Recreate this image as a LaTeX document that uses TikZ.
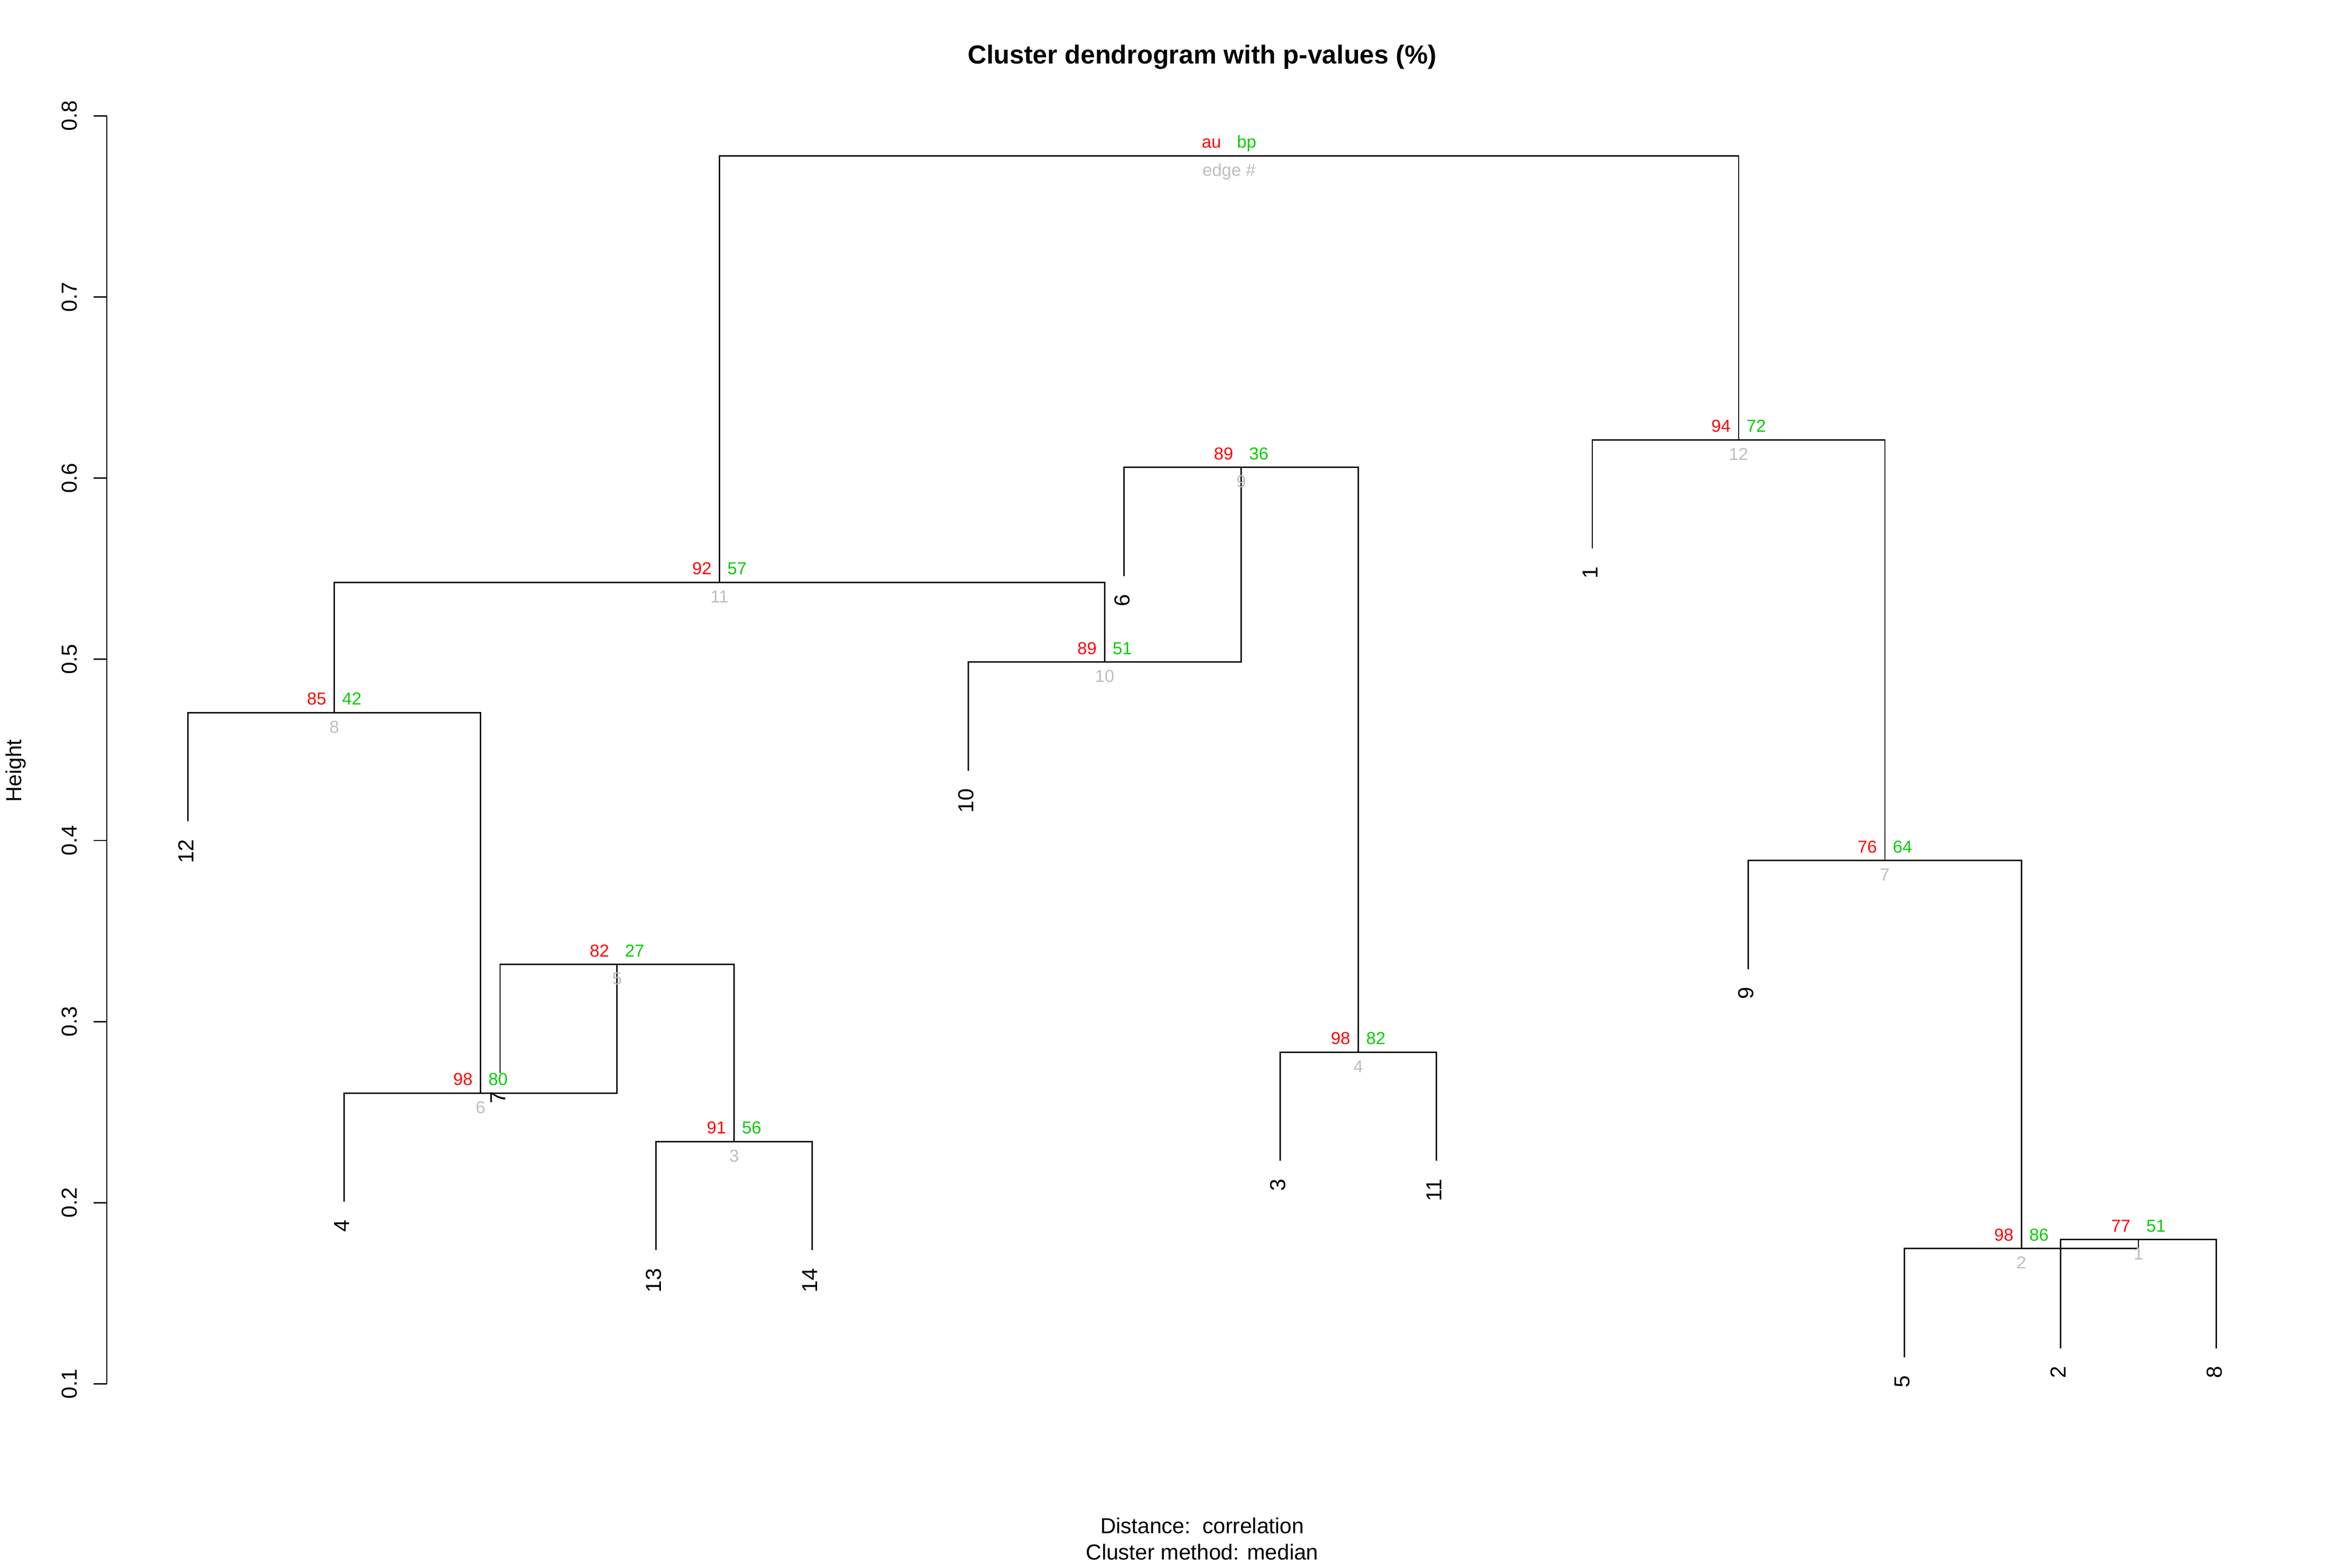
\documentclass[tikz,border=0pt]{standalone}
\usepackage{fontspec}
\setmainfont{Liberation Sans}
\definecolor{pvred}{HTML}{FF0000}
\definecolor{pvgreen}{HTML}{00CD00}
\definecolor{pvgray}{HTML}{BEBEBE}
\begin{document}
\begin{tikzpicture}[x=3.033183cm, y=35.22133cm,
  dend/.style={draw=black, line width=0.75pt},
  axisline/.style={draw=black, line width=0.75pt},
  leaflab/.style={rotate=90, anchor=east, inner sep=0pt, font=\fontsize{12}{14.4}\selectfont},
  ticklab/.style={rotate=90, anchor=base, inner sep=0pt, font=\fontsize{12}{14.4}\selectfont},
  aulab/.style={anchor=base east, inner sep=0pt, text=pvred, font=\fontsize{9.6}{11.5}\selectfont},
  bplab/.style={anchor=base west, inner sep=0pt, text=pvgreen, font=\fontsize{9.6}{11.5}\selectfont},
  edgelab/.style={anchor=base, inner sep=0pt, text=pvgray, font=\fontsize{9.6}{11.5}\selectfont},
  plaintext/.style={anchor=base, inner sep=0pt, font=\fontsize{12}{14.4}\selectfont}]
\useasboundingbox[fill=white] (-0.20447,-0.001442) rectangle (14.8688,0.86394);

% leaves (position, bottom of hanging line)
\coordinate (L12) at (1,0.4106);
\coordinate (L4)  at (2,0.2005);
\coordinate (L7)  at (3,0.2715);
\coordinate (L13) at (4,0.1738);
\coordinate (L14) at (5,0.1738);
\coordinate (L10) at (6,0.4385);
\coordinate (L6)  at (7,0.5459);
\coordinate (L3)  at (8,0.2231);
\coordinate (L11) at (9,0.2231);
\coordinate (L1)  at (10,0.5611);
\coordinate (L9)  at (11,0.3289);
\coordinate (L5)  at (12,0.1147);
\coordinate (L2)  at (13,0.1197);
\coordinate (L8)  at (14,0.1197);

% merges
\coordinate (c1)  at (13.5,0.1797);
\coordinate (c2)  at (12.75,0.1747);
\coordinate (c3)  at (4.5,0.2338);
\coordinate (c4)  at (8.5,0.2831);
\coordinate (c5)  at (3.75,0.3315);
\coordinate (c6)  at (2.875,0.2605);
\coordinate (c7)  at (11.875,0.3889);
\coordinate (c8)  at (1.9375,0.4706);
\coordinate (c9)  at (7.75,0.6059);
\coordinate (c10) at (6.875,0.4985);
\coordinate (c11) at (4.40625,0.5424);
\coordinate (c12) at (10.9375,0.6211);
\coordinate (c13) at (7.671875,0.7779);

% dendrogram
\draw[dend] (L2) |- (c1) -| (L8);
\draw[dend] (L5) |- (c2) -| (c1);
\draw[dend] (L13) |- (c3) -| (L14);
\draw[dend] (L3) |- (c4) -| (L11);
\draw[dend] (L7) |- (c5) -| (c3);
\draw[dend] (L4) |- (c6) -| (c5);
\draw[dend] (L9) |- (c7) -| (c2);
\draw[dend] (L12) |- (c8) -| (c6);
\draw[dend] (L6) |- (c9) -| (c4);
\draw[dend] (L10) |- (c10) -| (c9);
\draw[dend] (c8) |- (c11) -| (c10);
\draw[dend] (L1) |- (c12) -| (c7);
\draw[dend] (c11) |- (c13) -| (c12);

% leaf labels
\foreach \lf in {12,4,7,13,14,10,6,3,11,1,9,5,2,8}{
  \node[leaflab] (n\lf) at ([xshift=-1.2pt,yshift=-9.8pt]L\lf) {\lf};
}

% p-values
\foreach \c/\au/\bp/\ed in {c1/77/51/1, c2/98/86/2, c3/91/56/3, c4/98/82/4,
  c5/82/27/5, c6/98/80/6, c7/76/64/7, c8/85/42/8, c9/89/36/9, c10/89/51/10,
  c11/92/57/11, c12/94/72/12}{
  \node[aulab] (au\c) at ([xshift=-4.2pt,yshift=4.3pt]\c) {\au};
  \node[bplab] (bp\c) at ([xshift=4.2pt,yshift=4.3pt]\c) {\bp};
  \node[edgelab] (ed\c) at ([yshift=-11.2pt]\c) {\ed};
}
\node[aulab] (auc13) at ([xshift=-4.2pt,yshift=4.3pt]c13) {au};
\node[bplab] (bpc13) at ([xshift=4.2pt,yshift=4.3pt]c13) {bp};
\node[edgelab] (edc13) at ([yshift=-11.2pt]c13) {edge \#};

% y axis
\coordinate (ax0) at (0.48,0.1);
\coordinate (ax1) at (0.48,0.8);
\draw[axisline] (ax0) -- (ax1);
\foreach \k/\t in {1/0.1,2/0.2,3/0.3,4/0.4,5/0.5,6/0.6,7/0.7,8/0.8}{
  \coordinate (tk\k) at (0.48,\t);
  \draw[axisline] (tk\k) -- ++(-7.2pt,0);
  \node[ticklab] (tl\k) at ([xshift=-16.5pt]tk\k) {\t};
}
\node[ticklab] (ylab) at (-0.0688,0.43846) {Height};

% titles
\node[anchor=base, inner sep=0pt, font=\bfseries\fontsize{14.4}{17.3}\selectfont] (title) at (7.5,0.82868) {Cluster dendrogram with p-values (\%)};
\node[plaintext] (xlab1) at (7.5,0.01738) {Distance:\ \ correlation};
\node[plaintext] (xlab2) at (7.5,0.002957) {Cluster method: median};
\end{tikzpicture}
\end{document}
